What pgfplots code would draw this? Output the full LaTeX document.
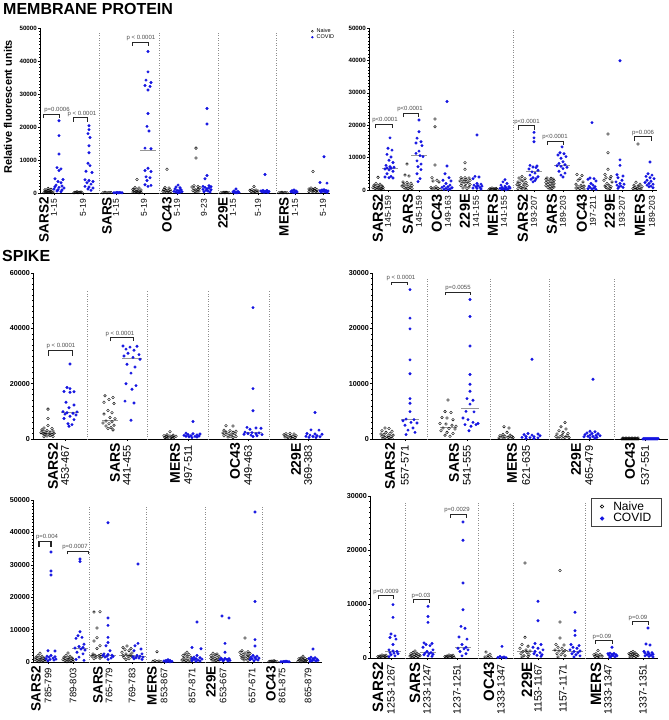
\documentclass[border=0pt]{standalone}
\usepackage{fontspec}
\setmainfont{Liberation Sans}
\usepackage{pgfplots}
\pgfplotsset{compat=1.18}
\definecolor{covblue}{RGB}{20,20,225}
\definecolor{medgray}{RGB}{150,150,150}

\pgfplotsset{
  panel/.style={scale only axis, axis lines*=left, axis line style={-, line width=0.8pt},
    clip=false, ymin=0, tick align=outside, major tick length=2pt, minor tick length=1pt,
    tick style={black, line width=0.5pt},
    scaled y ticks=false, /pgf/number format/1000 sep={}, /pgf/number format/assume math mode=true,
    yticklabel style={font=\bfseries\fontsize{7.2}{8}\selectfont, inner sep=1pt},
    xticklabel style={rotate=90, anchor=east, font=\fontsize{8.5}{9}\selectfont, inner sep=1pt},
    xticklabel shift=3pt,
    extra x tick style={major tick length=0pt,
      xticklabel style={font=\bfseries\fontsize{13.5}{14}\selectfont}},
    minor y tick num=9,
    legend image code/.code={\draw[#1] plot coordinates {(0pt,0pt)};}},
  nv/.style={only marks, mark=o, mark size=1.35pt, mark options={line width=0.4pt}, black, forget plot},
  cv/.style={only marks, mark=*, mark size=1.3pt, covblue, forget plot},
  md/.style={no marks, medgray, line width=0.9pt, forget plot},
  sep/.style={no marks, black!45, dotted, line width=0.5pt, forget plot},
  br/.style={no marks, black!85, line width=0.6pt, forget plot},
}
\tikzset{pv/.style={font=\fontsize{6}{6}\selectfont, text=black!70, anchor=south, inner sep=0.8pt}}

\begin{document}
\begin{tikzpicture}[x=1pt,y=1pt]
\useasboundingbox (0,0) rectangle (669,-720);
\node[anchor=north west, inner sep=0, font=\bfseries\fontsize{16}{16}\selectfont] at (3,-3.5) {MEMBRANE PROTEIN};
\node[anchor=north west, inner sep=0, font=\bfseries\fontsize{16}{16}\selectfont] at (2,-250) {SPIKE};
\node[rotate=90, inner sep=0, font=\bfseries\fontsize{11}{11}\selectfont] at (8,-107) {Relative fluorescent units};

% ---------------- Membrane, left ----------------
\begin{axis}[panel, at={(40pt,-193pt)}, anchor=south west, width=290pt, height=165pt,
  xmin=40, xmax=330, ymax=50000, ytick={0,10000,20000,30000,40000,50000},
  yticklabel style={font=\bfseries\fontsize{6.2}{7}\selectfont},
  xtick={54,83,116,144,177,204,233,258,295,323},
  xticklabels={1-15,5-19,1-15,5-19,5-19,9-23,1-15,5-19,1-15,5-19},
  extra x ticks={44,107,167,223,284}, extra x tick labels={SARS2,SARS,OC43,229E,MERS},
  legend style={at={(0.935,1)}, anchor=north west, draw=none, fill=none,
    font=\fontsize{5.5}{5.5}\selectfont, inner sep=0pt, row sep=0pt, column sep=3pt,
    cells={anchor=west}, nodes={inner sep=0.3pt}}]
\addlegendimage{only marks, mark=o, mark size=1pt, black}
\addlegendentry{Naive}
\addlegendimage{only marks, mark=*, mark size=0.9pt, covblue}
\addlegendentry{COVID}
\addplot[sep] coordinates {(99,0)(99,48500)};
\addplot[sep] coordinates {(159,0)(159,48500)};
\addplot[sep] coordinates {(218,0)(218,48500)};
\addplot[sep] coordinates {(276,0)(276,48500)};
% SARS2 1-15
\addplot[nv] coordinates {(44,100)(46,150)(48,120)(50,180)(52,100)(45,300)(47,350)(49,280)(51,400)(53,320)(46,550)(50,600)(48,800)(45,950)(51,1100)(48,1400)};
\addplot[cv] coordinates {(59,21900)(59,17400)(59,11800)(57,7700)(61,7300)(59,6800)(55,4300)(63,4100)(58,3500)(61,3100)(56,2400)(62,2100)(55,1900)(59,1700)(64,1500)(54,1200)(58,1000)(62,900)(57,600)(61,400)};
% SARS2 5-19
\addplot[nv] coordinates {(74,80)(76,150)(78,100)(80,130)(82,60)(75,250)(79,220)(77,350)(81,300)};
\addplot[cv] coordinates {(89,20400)(89,19200)(88,18000)(90,16800)(89,14300)(89,12200)(88,9000)(90,8300)(86,6600)(92,6200)(85,4000)(89,3800)(93,3500)(87,3100)(91,2700)(85,2000)(89,1800)(93,1500)(88,1200)(91,800)};
% SARS 1-15
\addplot[nv] coordinates {(103,100)(107,80)(111,120)(105,200)(109,150)};
\addplot[cv] coordinates {(114,80)(116,120)(118,100)(120,150)(122,90)(117,200)(119,60)};
% SARS 5-19
\addplot[nv] coordinates {(137,4100)(135,1700)(139,1500)(133,1100)(137,1000)(141,900)(134,700)(138,600)(136,450)(140,400)(133,300)(137,250)(141,200)(135,120)(139,100)};
\addplot[cv] coordinates {(148,42900)(148,36700)(146,34200)(151,33500)(145,32600)(150,32300)(148,31200)(148,24100)(147,20200)(149,18800)(145,13600)(151,13400)(148,7500)(145,6800)(151,6500)(146,4900)(150,4600)(147,3800)(145,2500)(151,2300)(148,2000)};
\addplot[md] coordinates {(140,13000)(156,13000)};
% OC43 5-19
\addplot[nv] coordinates {(167,7200)(165,1700)(169,1500)(164,1100)(170,1000)(166,800)(168,700)(163,500)(171,450)(165,300)(169,250)(167,150)};
\addplot[cv] coordinates {(178,2400)(176,1800)(180,1600)(175,1200)(181,1000)(177,800)(179,700)(174,500)(182,400)(176,300)(180,200)(178,100)};
% OC43 9-23
\addplot[nv] coordinates {(196,13600)(196,10600)(194,2200)(198,2000)(192,1800)(200,1600)(194,1300)(198,1100)(196,900)(193,700)(199,600)(195,400)(197,300)};
\addplot[cv] coordinates {(207,25600)(207,20900)(207,5300)(205,4300)(209,2200)(203,2000)(211,1900)(205,1700)(209,1500)(207,1300)(203,1100)(211,1000)(206,800)(208,600)(204,400)(210,300)};
% 229E 1-15
\addplot[nv] coordinates {(221,80)(223,150)(225,100)(227,130)(229,70)(224,250)(226,200)};
\addplot[cv] coordinates {(236,1200)(234,600)(238,500)(233,300)(236,250)(239,200)(235,100)(237,80)};
% 229E 5-19
\addplot[nv] coordinates {(254,2000)(252,1000)(256,900)(250,800)(254,700)(258,600)(251,450)(255,400)(253,250)(257,200)};
\addplot[cv] coordinates {(265,5600)(263,800)(267,750)(261,600)(265,550)(269,500)(262,350)(266,300)(264,200)(268,150)};
% MERS 1-15
\addplot[nv] coordinates {(279,80)(281,150)(283,100)(285,130)(287,70)(282,250)};
\addplot[cv] coordinates {(294,900)(292,700)(296,600)(291,400)(295,350)(297,300)(293,200)(295,100)};
% MERS 5-19
\addplot[nv] coordinates {(313,6500)(311,1500)(315,1400)(309,1200)(313,1100)(317,1000)(310,900)(314,800)(312,600)(316,500)(309,400)(313,300)(317,200)};
\addplot[cv] coordinates {(324,11000)(320,3200)(327,3000)(324,1000)(322,900)(326,800)(320,700)(328,600)(323,500)(325,400)(321,300)(327,200)};
% brackets
\addplot[br] coordinates {(43,22800)(43,24000)(59,24000)(59,22800)};
\node[pv] at (axis cs:57,24000) {p=0.0006};
\addplot[br] coordinates {(73,21600)(73,22800)(87,22800)(87,21600)};
\node[pv] at (axis cs:82,22800) {p < 0.0001};
\addplot[br] coordinates {(132,44500)(132,45700)(148,45700)(148,44500)};
\node[pv] at (axis cs:141,45700) {p < 0.0001};
\end{axis}

% ---------------- Membrane, right ----------------
\begin{axis}[panel, at={(369pt,-190pt)}, anchor=south west, width=288pt, height=162pt,
  xmin=369, xmax=657, ymax=50000, ytick={0,10000,20000,30000,40000,50000},
  yticklabel style={font=\bfseries\fontsize{6.2}{7}\selectfont},
  extra x tick style={xticklabel style={font=\bfseries\fontsize{14.5}{15}\selectfont}},
  xtick={388,419,448,476,504,534,563,593,622,652},
  xticklabels={145-159,145-159,149-163,141-155,141-155,193-207,189-203,197-211,193-207,189-203},
  extra x ticks={378,408,437,465,493,523,552,582,610,640},
  extra x tick labels={SARS2,SARS,OC43,229E,MERS,SARS2,SARS,OC43,229E,MERS}]
\addplot[sep] coordinates {(513,0)(513,50000)};
\addplot[nv] coordinates {(378,3900)(376,2000)(380,1800)(374,1500)(378,1300)(382,1200)(375,1000)(379,900)(383,800)(373,700)(377,600)(381,500)(375,400)(379,300)(383,250)(377,150)(381,100)};
\addplot[cv] coordinates {(390,16100)(388,12900)(392,12300)(387,11000)(391,10200)(389,9200)(393,8500)(386,7600)(390,7200)(394,7000)(387,6800)(391,6700)(385,6500)(389,6200)(393,5800)(387,5000)(391,4200)(385,4000)(389,3800)(393,3700)};
\addplot[md] coordinates {(382,6700)(398,6700)};
\addplot[nv] coordinates {(407,8000)(405,4600)(409,4300)(403,2500)(407,2300)(411,2100)(404,1800)(408,1600)(412,1400)(402,1200)(406,1000)(410,900)(404,700)(408,500)(412,400)(406,300)(410,150)};
\addplot[cv] coordinates {(419,21600)(419,18000)(417,16000)(421,14900)(416,14500)(422,13700)(419,12000)(416,11300)(420,10600)(423,10300)(417,9000)(421,8000)(418,7200)(421,6300)(417,5000)(420,3500)(418,2600)};
\addplot[md] coordinates {(411,10600)(427,10600)};
\addplot[nv] coordinates {(435,21900)(435,19500)(435,7700)(432,3800)(437,3000)(433,2800)(439,2500)(436,1000)(431,800)(434,600)(438,500)(432,300)(436,200)(440,150)};
\addplot[cv] coordinates {(447,27300)(447,7400)(445,5000)(449,3800)(443,3000)(451,2800)(446,2000)(450,1500)(444,1200)(448,1000)(442,800)(452,700)(446,500)(450,300)(444,200)(448,100)};
\addplot[nv] coordinates {(465,8400)(465,6400)(461,3800)(465,3800)(469,3700)(462,3300)(466,3200)(470,3000)(460,2800)(464,2600)(468,2500)(462,2100)(466,2000)(470,1700)(461,1400)(465,1200)(469,900)(463,600)(467,400)};
\addplot[cv] coordinates {(477,17000)(475,4200)(479,4000)(473,3500)(477,2000)(481,1800)(474,1500)(478,1300)(482,1200)(476,1000)(480,800)(473,600)(477,500)(481,300)};
\addplot[nv] coordinates {(489,100)(491,200)(493,150)(495,250)(497,120)(490,400)(494,350)(496,500)(492,600)};
\addplot[cv] coordinates {(505,3200)(503,2500)(507,2000)(501,1500)(505,1200)(509,1000)(502,800)(506,700)(510,600)(500,500)(504,400)(508,300)(502,200)(506,100)};
\addplot[nv] coordinates {(522,4200)(519,3700)(525,3500)(521,3100)(523,2800)(518,2500)(526,2300)(520,2000)(524,1800)(517,1600)(527,1400)(519,1200)(523,1000)(521,800)(525,600)(518,400)(522,300)(526,200)};
\addplot[cv] coordinates {(534,17800)(534,16100)(534,14900)(530,7600)(537,7400)(533,7100)(536,6900)(529,6500)(538,6100)(532,5600)(535,5200)(530,4600)(538,4100)(533,3800)(536,3500)(531,3300)(535,2900)(533,2500)};
\addplot[md] coordinates {(526,5600)(542,5600)};
\addplot[nv] coordinates {(547,3700)(551,3600)(553,3400)(546,3300)(550,3100)(554,2900)(548,2700)(552,2500)(546,2300)(550,2100)(554,1900)(548,1700)(552,1500)(546,1300)(550,1100)(554,900)(548,700)(552,500)(550,300)};
\addplot[cv] coordinates {(562,13300)(560,11500)(564,11200)(558,10800)(566,10300)(561,9800)(563,8700)(559,8200)(565,7800)(557,7500)(561,7300)(567,7000)(563,6600)(559,5800)(565,5200)(561,4600)(563,4000)};
\addplot[md] coordinates {(554,7500)(570,7500)};
\addplot[nv] coordinates {(577,4800)(582,4500)(580,3500)(578,3000)(583,2500)(576,1800)(581,1500)(584,1200)(578,1000)(582,800)(576,600)(580,400)(584,300)(578,150)};
\addplot[cv] coordinates {(592,20800)(590,3700)(594,3500)(588,3300)(596,2800)(591,2000)(593,1500)(589,1200)(595,1000)(590,800)(594,600)(588,400)(592,300)(596,200)};
\addplot[nv] coordinates {(608,17300)(608,11500)(608,6400)(605,4800)(611,4200)(606,3800)(610,3500)(604,3000)(612,2500)(607,2000)(609,1500)(605,1200)(611,1000)(606,800)(610,500)(608,300)};
\addplot[cv] coordinates {(620,39900)(620,9300)(620,7600)(617,4700)(623,4300)(618,3800)(622,3000)(616,2500)(620,2000)(624,1800)(617,1500)(621,1200)(619,1000)(623,800)(618,500)};
\addplot[nv] coordinates {(638,14200)(636,2400)(640,1800)(634,1500)(638,1200)(642,1000)(635,800)(639,700)(633,500)(637,400)(641,300)(636,200)(640,100)};
\addplot[cv] coordinates {(650,8640)(648,5000)(652,4600)(646,4200)(650,3800)(654,3500)(647,3000)(651,2700)(645,2300)(649,2000)(653,1800)(647,1500)(651,1200)(649,1000)(653,700)};
\addplot[br] coordinates {(375,19100)(375,20300)(392,20300)(392,19100)};
\node[pv] at (axis cs:385,20300) {p<0.0001};
\addplot[br] coordinates {(403,22500)(403,23700)(418,23700)(418,22500)};
\node[pv] at (axis cs:410,23700) {p<0.0001};
\addplot[br] coordinates {(518,18650)(518,19850)(534,19850)(534,18650)};
\node[pv] at (axis cs:527,19850) {p<0.0001};
\addplot[br] coordinates {(547,13900)(547,15100)(563,15100)(563,13900)};
\node[pv] at (axis cs:555,15100) {p<0.0001};
\addplot[br] coordinates {(634,15250)(634,16450)(651,16450)(651,15250)};
\node[pv] at (axis cs:643,16450) {p=0.006};
\end{axis}

% ---------------- Spike, top left ----------------
\begin{axis}[panel, at={(33pt,-439pt)}, anchor=south west, width=297pt, height=166pt,
  xmin=33, xmax=330, ymax=60000, ytick={0,20000,40000,60000},
  xticklabel style={font=\fontsize{11}{12}\selectfont},
  extra x tick style={xticklabel style={font=\bfseries\fontsize{14}{15}\selectfont}},
  xtick={65,127,188,248,308},
  xticklabels={453-467,441-455,497-511,449-463,369-383},
  extra x ticks={53,115,175,235,296}, extra x tick labels={SARS2,SARS,MERS,OC43,229E}]
\addplot[sep] coordinates {(87,0)(87,53500)};
\addplot[sep] coordinates {(147,0)(147,53500)};
\addplot[sep] coordinates {(208,0)(208,53500)};
\addplot[sep] coordinates {(269,0)(269,53500)};
\addplot[nv] coordinates {(48,10800)(48,7400)(48,4900)(44,4000)(52,3800)(42,3300)(47,3100)(53,2900)(44,2600)(50,2500)(41,2300)(46,2200)(54,2100)(43,1900)(49,1800)(52,1600)(45,1500)(50,1300)(47,1100)(53,900)(44,800)};
\addplot[md] coordinates {(40,2100)(56,2100)};
\addplot[cv] coordinates {(70,27100)(67,18600)(70,18200)(64,17200)(74,17100)(70,16900)(66,13300)(74,12300)(69,11300)(63,9900)(77,9800)(67,9500)(73,9300)(65,9000)(76,8700)(70,8200)(64,7400)(74,7000)(68,5500)(72,5200)(69,4600)};
\addplot[md] coordinates {(61,9500)(79,9500)};
\addplot[nv] coordinates {(105,15600)(113,15000)(109,14300)(104,13300)(114,12800)(108,10300)(112,9500)(104,9000)(110,7800)(115,7300)(106,6500)(112,6200)(103,5800)(109,5500)(114,5000)(106,4700)(111,4200)(108,3800)(113,3300)};
\addplot[md] coordinates {(102,6600)(118,6600)};
\addplot[cv] coordinates {(123,33600)(130,33200)(137,33500)(126,32500)(134,32100)(128,31000)(139,30500)(124,30000)(133,29500)(140,28800)(127,27000)(135,26000)(131,23800)(126,20000)(136,19300)(132,18000)(125,13700)(134,13000)(131,6800)};
\addplot[md] coordinates {(122,29000)(142,29000)};
\addplot[nv] coordinates {(170,2600)(167,1500)(173,1400)(164,1200)(170,1100)(176,1000)(166,900)(172,850)(168,700)(174,600)(165,500)(171,400)(167,300)(173,200)};
\addplot[cv] coordinates {(193,6300)(186,2100)(193,1900)(200,1800)(188,1600)(197,1500)(184,1300)(191,1200)(199,1100)(186,1000)(195,950)(189,800)(197,700)(192,500)};
\addplot[nv] coordinates {(226,4800)(233,4700)(224,3200)(230,3000)(236,2800)(226,2500)(233,2400)(223,2200)(229,2000)(235,1900)(226,1700)(232,1500)(224,1200)(230,1000)(236,900)(228,700)(233,500)};
\addplot[cv] coordinates {(253,47500)(253,18200)(253,10200)(247,4200)(256,4000)(261,3900)(250,3500)(245,2500)(252,2300)(259,2200)(248,2000)(256,1900)(244,1700)(262,1600)(251,1400)(257,1200)(253,900)};
\addplot[md] coordinates {(244,2200)(262,2200)};
\addplot[nv] coordinates {(290,2000)(286,1900)(294,1800)(284,1500)(290,1300)(296,1200)(287,1000)(293,900)(285,700)(291,600)(295,500)(288,400)(292,250)};
\addplot[cv] coordinates {(315,9600)(311,3300)(319,3200)(307,2000)(315,1800)(322,1700)(310,1400)(317,1200)(306,1000)(313,900)(320,800)(309,600)(316,500)};
\addplot[br] coordinates {(48,30000)(48,32200)(72,32200)(72,30000)};
\node[pv] at (axis cs:61,32200) {p < 0.0001};
\addplot[br] coordinates {(110,35300)(110,36700)(133,36700)(133,35300)};
\node[pv] at (axis cs:120,36700) {p < 0.0001};
\end{axis}

% ---------------- Spike, top right ----------------
\begin{axis}[panel, at={(372pt,-439pt)}, anchor=south west, width=296pt, height=166pt,
  xmin=372, xmax=668, ymax=30000, ytick={0,10000,20000,30000},
  xticklabel style={font=\fontsize{11}{12}\selectfont},
  extra x tick style={xticklabel style={font=\bfseries\fontsize{14}{15}\selectfont}},
  xtick={405,467,526,589,645},
  xticklabels={557-571,541-555,621-635,465-479,537-551},
  extra x ticks={390,454,512,576,630}, extra x tick labels={SARS2,SARS,MERS,229E,OC43}]
\addplot[sep] coordinates {(427,0)(427,29100)};
\addplot[sep] coordinates {(490,0)(490,29100)};
\addplot[sep] coordinates {(549,0)(549,29100)};
\addplot[sep] coordinates {(614,0)(614,29100)};
\addplot[nv] coordinates {(385,2000)(389,1900)(382,1500)(392,1400)(386,1200)(390,1000)(381,900)(384,800)(393,700)(388,600)(382,500)(391,400)(385,300)(389,250)(383,150)(387,100)(392,80)};
\addplot[cv] coordinates {(410,27000)(410,21850)(410,19900)(410,14300)(410,11800)(410,7300)(410,6460)(410,4950)(406,3600)(414,3500)(403,3300)(411,3000)(417,2900)(405,2500)(413,2000)(408,1600)(415,1200)(406,800)};
\addplot[md] coordinates {(401,3500)(419,3500)};
\addplot[nv] coordinates {(448,7060)(445,4950)(451,4800)(442,3900)(447,3800)(453,3500)(440,2800)(446,2700)(452,2500)(456,2300)(443,2000)(449,1900)(455,1800)(441,1500)(447,1200)(453,1000)(445,700)(450,500)};
\addplot[md] coordinates {(440,2000)(456,2000)};
\addplot[cv] coordinates {(470,25200)(470,22150)(470,16800)(470,11650)(470,9900)(470,8630)(467,7300)(473,7000)(470,6300)(466,5000)(474,4900)(463,3800)(468,3500)(473,3000)(478,2800)(465,2600)(471,2300)(476,2600)(469,1500)};
\addplot[md] coordinates {(461,5500)(479,5500)};
\addplot[nv] coordinates {(504,2230)(509,2000)(507,1200)(503,800)(510,700)(500,600)(505,500)(512,450)(502,350)(508,300)(513,250)(499,200)(504,150)(510,100)};
\addplot[cv] coordinates {(532,14400)(528,1000)(538,900)(524,800)(532,700)(540,600)(526,450)(534,400)(522,300)(530,250)(538,200)(526,100)(534,80)};
\addplot[nv] coordinates {(565,3000)(561,2200)(566,1800)(559,1500)(563,1200)(568,1000)(557,900)(562,700)(567,600)(556,450)(560,400)(565,300)(569,250)(558,150)(563,100)};
\addplot[cv] coordinates {(593,10800)(590,1400)(595,1300)(587,1100)(592,1000)(598,950)(585,800)(590,700)(596,650)(600,600)(588,500)(593,450)(584,400)(597,300)(590,200)(595,150)};
\addplot[nv] coordinates {(622,0)(623,100)(624,0)(625,100)(626,0)(627,100)(628,0)(629,100)(630,0)(631,100)(632,0)(633,100)(634,0)(635,100)(636,0)(637,100)(638,0)(623,200)(626,200)(629,200)(632,200)(635,200)(638,200)};
\addplot[cv] coordinates {(643,0)(644,90)(645,0)(646,90)(647,0)(648,90)(649,0)(650,90)(651,0)(652,90)(653,0)(654,90)(655,0)(656,90)(657,0)(658,90)};
\addplot[br] coordinates {(391,27900)(391,28400)(407,28400)(407,27900)};
\node[pv] at (axis cs:401,28400) {p < 0.0001};
\addplot[br] coordinates {(445,26000)(445,26600)(470,26600)(470,26000)};
\node[pv] at (axis cs:458,26600) {p=0.0055};
\end{axis}

% ---------------- Spike, bottom left ----------------
\begin{axis}[panel, at={(33pt,-662pt)}, anchor=south west, width=289pt, height=162pt,
  xmin=33, xmax=322, ymax=50000, ytick={0,10000,20000,30000,40000,50000},
  xticklabel style={font=\fontsize{9.5}{10}\selectfont},
  xtick={48,73,109,132,164,192,223,252,282,308},
  xticklabels={785-799,789-803,765-779,769-783,853-867,857-871,653-667,657-671,861-875,865-879},
  extra x ticks={36,98,152,211,271}, extra x tick labels={SARS2,SARS,MERS,229E,OC43}]
\addplot[sep] coordinates {(89,0)(89,48500)};
\addplot[sep] coordinates {(146,0)(146,48500)};
\addplot[sep] coordinates {(205,0)(205,48500)};
\addplot[sep] coordinates {(262,0)(262,48500)};
\addplot[nv] coordinates {(40,2700)(38,2000)(42,1800)(36,1500)(40,1300)(44,1200)(37,1000)(41,900)(45,800)(35,700)(39,600)(43,500)(37,400)(41,300)(45,200)(39,100)};
\addplot[cv] coordinates {(51,33950)(51,28100)(51,26850)(48,3500)(55,3400)(51,2000)(47,1800)(55,1600)(49,1500)(53,1200)(46,1000)(56,900)(50,800)(54,600)(48,400)};
\addplot[nv] coordinates {(68,2800)(66,2000)(70,1800)(64,1500)(68,1300)(72,1200)(65,1000)(69,900)(73,800)(63,700)(67,600)(71,500)(65,400)(69,300)(73,200)(67,100)};
\addplot[cv] coordinates {(80,31800)(80,31000)(80,9360)(78,8130)(82,7600)(76,7300)(84,5500)(79,4800)(83,4500)(75,4300)(81,4000)(85,3700)(77,3000)(83,2500)(79,1500)(76,800)(84,500)};
\addplot[md] coordinates {(72,4300)(88,4300)};
\addplot[nv] coordinates {(94,15400)(100,15500)(97,10500)(97,7500)(94,6500)(100,5000)(97,4200)(93,2500)(101,2300)(95,2100)(99,2000)(92,1800)(102,1700)(96,1500)(100,1200)(94,1000)};
\addplot[md] coordinates {(89,2000)(105,2000)};
\addplot[cv] coordinates {(108,43000)(108,13600)(108,11300)(108,7600)(108,6000)(106,5000)(110,3500)(104,2500)(108,2300)(112,2100)(103,2000)(107,1800)(113,1700)(105,1500)(111,1200)(108,800)};
\addplot[md] coordinates {(100,2000)(116,2000)};
\addplot[nv] coordinates {(127,4940)(123,4500)(131,4200)(125,3800)(129,3500)(122,3000)(132,2800)(126,2500)(130,2200)(123,2000)(128,1800)(132,1600)(124,1400)(129,1000)(126,800)};
\addplot[md] coordinates {(119,2000)(135,2000)};
\addplot[cv] coordinates {(138,30250)(138,5760)(135,5000)(141,4000)(134,3500)(142,2500)(137,2000)(140,1800)(133,1600)(143,1500)(136,1300)(139,1200)(134,1000)(142,800)};
\addplot[md] coordinates {(130,1600)(146,1600)};
\addplot[nv] coordinates {(157,3190)(155,400)(159,300)(153,200)(157,150)(161,100)};
\addplot[cv] coordinates {(168,700)(166,500)(170,450)(164,300)(168,250)(172,200)(166,100)(170,80)};
\addplot[nv] coordinates {(187,3000)(185,2500)(189,2300)(183,2000)(187,1800)(191,1500)(184,1200)(188,1000)(192,800)(182,600)(186,500)(190,300)(184,200)(188,100)};
\addplot[cv] coordinates {(197,12350)(192,4500)(201,4100)(197,2000)(194,1500)(200,1300)(192,1100)(196,1000)(202,900)(194,800)(198,600)(192,400)(200,300)(196,200)};
\addplot[nv] coordinates {(213,2700)(217,2500)(215,2200)(211,2000)(219,1800)(213,1500)(217,1300)(211,1100)(215,1000)(219,800)(212,600)(216,500)(214,300)(218,200)};
\addplot[cv] coordinates {(222,14200)(229,13600)(225,5760)(225,3000)(221,1200)(225,1100)(229,1000)(222,900)(227,800)(220,700)(224,600)(230,500)(223,400)(228,300)};
\addplot[nv] coordinates {(245,7400)(242,3500)(248,3200)(240,3000)(245,2800)(250,2600)(243,2400)(247,2200)(241,2000)(249,1800)(244,1600)(248,1400)(242,1200)(246,1000)(250,800)(244,600)(248,400)};
\addplot[cv] coordinates {(255,46300)(255,18700)(255,6900)(255,4940)(253,2000)(257,1800)(251,1500)(255,1400)(259,1200)(252,1000)(256,900)(250,800)(258,600)(254,400)};
\addplot[nv] coordinates {(269,80)(271,150)(273,100)(275,200)(277,70)(272,300)(274,400)(270,250)};
\addplot[cv] coordinates {(281,80)(283,120)(285,100)(287,150)(289,70)(284,200)(286,250)};
\addplot[nv] coordinates {(303,1800)(301,1200)(305,1100)(299,1000)(303,900)(307,800)(300,600)(304,500)(306,400)(302,300)(298,200)(305,150)(301,100)};
\addplot[cv] coordinates {(313,4000)(311,1500)(315,1300)(309,1100)(313,1000)(317,900)(310,800)(314,600)(318,500)(312,400)(316,300)(310,200)};
\addplot[br, line width=1.2pt] coordinates {(39,35600)(39,37100)(51,37100)(51,35600)};
\node[pv] at (axis cs:47,37300) {p=0.004};
\addplot[br] coordinates {(67,33200)(67,34300)(88,34300)(88,33200)};
\node[pv] at (axis cs:75,34300) {p=0.0007};
\end{axis}

% ---------------- Spike, bottom right ----------------
\begin{axis}[panel, at={(370pt,-658pt)}, anchor=south west, width=288pt, height=162pt,
  xmin=370, xmax=658, ymax=30000, ytick={0,10000,20000,30000},
  xticklabel style={font=\fontsize{10.5}{11}\selectfont},
  extra x tick style={xticklabel style={font=\bfseries\fontsize{15}{16}\selectfont}},
  xtick={391,427,457,501,538,563,608,643},
  xticklabels={1253-1267,1233-1247,1237-1251,1333-1347,1153-1167,1157-1171,1333-1347,1337-1351},
  extra x ticks={378,415,489,527,596}, extra x tick labels={SARS2,SARS,OC43,229E,MERS},
  legend style={at={(0.767,0.988)}, anchor=north west, draw=black!75, line width=0.9pt, fill=white,
    font=\fontsize{12}{12}\selectfont, inner xsep=9pt, inner ysep=1.5pt, row sep=-1pt,
    column sep=8pt, cells={anchor=west}, nodes={inner sep=1.5pt}}]
\addlegendimage{only marks, mark=o, mark size=1.7pt, mark options={line width=0.6pt}, black}
\addlegendentry{Naive}
\addlegendimage{only marks, mark=*, mark size=1.6pt, covblue}
\addlegendentry{COVID}
\addplot[sep] coordinates {(405,0)(405,28900)};
\addplot[sep] coordinates {(478,0)(478,28900)};
\addplot[sep] coordinates {(513,0)(513,28900)};
\addplot[sep] coordinates {(585,0)(585,28900)};
\addplot[nv] coordinates {(379,100)(381,200)(383,150)(385,250)(387,120)(380,350)(384,400)(386,500)(382,550)(378,300)};
\addplot[cv] coordinates {(393,9880)(393,7530)(391,4440)(395,4100)(390,3800)(396,3500)(393,2500)(389,1500)(393,1300)(397,1200)(390,1000)(394,900)(398,800)(391,600)(395,400)(389,250)};
\addplot[md] coordinates {(385,1300)(401,1300)};
\addplot[nv] coordinates {(415,1300)(413,1000)(417,900)(411,800)(415,700)(419,600)(412,500)(416,450)(420,400)(410,350)(414,300)(418,250)(412,200)(416,100)};
\addplot[cv] coordinates {(428,9570)(428,7700)(428,6600)(424,2800)(432,2700)(426,2500)(430,2300)(423,2000)(433,1500)(427,1200)(431,1000)(425,900)(429,800)(433,700)(424,600)(428,400)(432,300)};
\addplot[md] coordinates {(420,1000)(436,1000)};
\addplot[nv] coordinates {(446,100)(448,200)(450,150)(452,250)(454,120)(447,350)(451,400)(453,500)(449,550)(445,300)};
\addplot[cv] coordinates {(463,25200)(463,21800)(463,13900)(463,8950)(461,5860)(465,5500)(459,3900)(467,3500)(462,2500)(466,2000)(458,1800)(464,1700)(468,1500)(460,1200)(466,800)(462,400)};
\addplot[md] coordinates {(455,2000)(471,2000)};
\addplot[nv] coordinates {(486,1100)(490,700)(488,400)(485,200)(491,150)(488,80)};
\addplot[cv] coordinates {(502,2160)(500,300)(504,200)(498,100)(502,80)(506,60)};
\addplot[nv] coordinates {(525,17600)(525,3830)(522,2500)(528,2200)(520,1800)(526,1500)(530,1300)(523,1200)(527,1000)(521,800)(529,600)(524,400)(528,300)(522,200)};
\addplot[md] coordinates {(517,1200)(533,1200)};
\addplot[cv] coordinates {(538,10500)(538,6900)(535,2700)(541,2500)(533,2000)(538,1800)(543,1500)(535,1200)(540,1000)(534,800)(542,600)(537,500)(541,300)};
\addplot[nv] coordinates {(560,16200)(560,6670)(560,3700)(556,2500)(564,2400)(558,2000)(562,1800)(555,1500)(565,1400)(559,1300)(563,1000)(557,800)(561,600)(565,400)(558,200)};
\addplot[md] coordinates {(552,1400)(568,1400)};
\addplot[cv] coordinates {(575,8460)(575,5060)(575,4200)(571,2500)(579,2300)(573,2000)(577,1800)(570,1500)(580,1300)(574,1200)(578,1000)(572,800)(576,600)(580,400)(574,200)};
\addplot[md] coordinates {(567,1300)(583,1300)};
\addplot[nv] coordinates {(598,1400)(596,800)(600,700)(594,600)(598,400)(602,350)(595,300)(599,200)(597,100)};
\addplot[cv] coordinates {(612,2000)(610,900)(614,850)(608,800)(612,700)(616,600)(609,500)(613,450)(617,400)(611,300)(615,200)(610,100)};
\addplot[nv] coordinates {(633,1200)(631,1000)(635,950)(629,800)(633,700)(637,650)(630,600)(634,500)(638,400)(632,350)(636,300)(630,200)(634,100)};
\addplot[cv] coordinates {(648,5560)(646,2600)(650,2400)(644,1200)(648,1100)(652,1000)(645,900)(649,800)(653,700)(647,600)(651,500)(645,400)(649,300)(653,200)};
\addplot[br] coordinates {(378,10900)(378,11600)(393,11600)(393,10900)};
\node[pv] at (axis cs:386,11600) {p=0.0009};
\addplot[br] coordinates {(413,10200)(413,10800)(429,10800)(429,10200)};
\node[pv] at (axis cs:421,10800) {p=0.03};
\addplot[br] coordinates {(450,26000)(450,26700)(466,26700)(466,26000)};
\node[pv] at (axis cs:457,26700) {p=0.0029};
\addplot[br] coordinates {(595,2650)(595,3270)(612,3270)(612,2650)};
\node[pv] at (axis cs:602,3270) {p=0.09};
\addplot[br] coordinates {(632,6200)(632,6800)(648,6800)(648,6200)};
\node[pv] at (axis cs:638,6800) {p=0.09};
\end{axis}
\end{tikzpicture}
\end{document}
